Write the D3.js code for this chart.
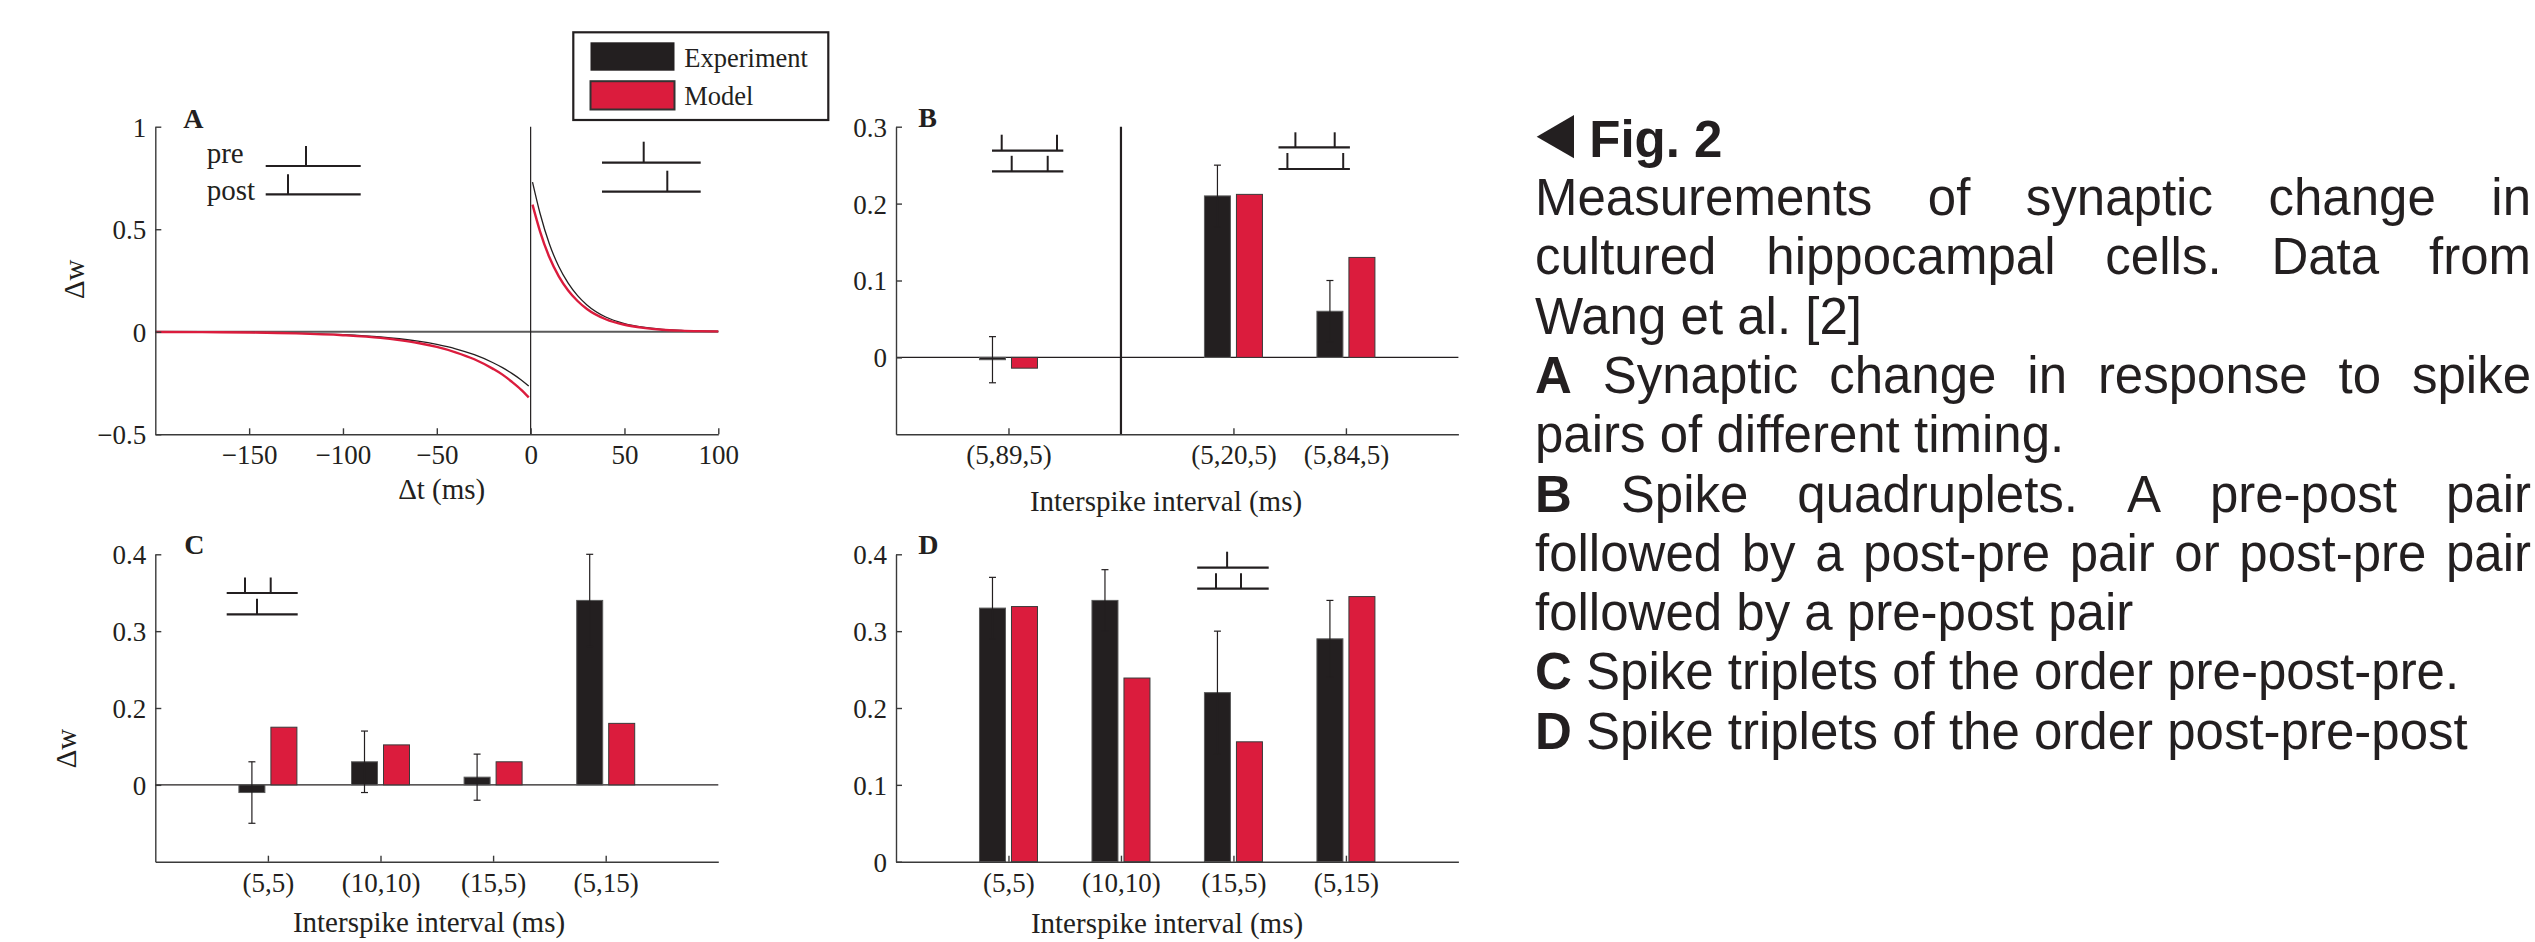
<!DOCTYPE html>
<html><head><meta charset="utf-8">
<script src="https://cdn.jsdelivr.net/npm/d3@7"></script>
<style>body{margin:0;background:#fff}svg{display:block}</style>
</head><body>
<svg id="fig" width="2535" height="942"></svg>
<script>
// ---------------- data ----------------
const seriesNames = ["Experiment", "Model"];

// Panel A: spike-pair window
const aTimeNeg  = [-200,-175,-150,-125,-100,-80,-70,-60,-50,-40,-30,-20,-15,-10,-5,-1];
const aExpNeg   = [-0.0007,-0.0015,-0.003,-0.007,-0.014,-0.025,-0.034,-0.046,-0.062,-0.083,-0.112,-0.151,-0.175,-0.203,-0.235,-0.265];
const aModelNeg = [-0.0008,-0.0018,-0.0036,-0.008,-0.017,-0.03,-0.041,-0.055,-0.074,-0.1,-0.134,-0.181,-0.209,-0.244,-0.283,-0.32];
const aTimePos  = [1,5,10,15,20,25,30,40,50,60,70,80,90,100];
const aExpPos   = [0.73,0.578,0.428,0.318,0.237,0.176,0.131,0.072,0.04,0.022,0.012,0.0065,0.0036,0.002];
const aModelPos = [0.62,0.49,0.363,0.27,0.201,0.15,0.111,0.061,0.034,0.019,0.01,0.0055,0.003,0.0017];
const aXTicks = [-150,-100,-50,0,50,100];
const aXTickLabels = ["\u2212150","\u2212100","\u221250","0","50","100"];
const aYTicks = [-0.5,0,0.5,1];
const aYTickLabels = ["\u22120.5","0","0.5","1"];

// Panel B: quadruplets
const bCategories = ["(5,89,5)", "", "(5,20,5)", "(5,84,5)"];
const bExperiment = [-0.003, 0, 0.21, 0.06];
const bExperimentErr = [0.03, 0, 0.04, 0.04];
const bModel = [-0.014, 0, 0.212, 0.13];
const bYTicks = [0, 0.1, 0.2, 0.3];
const bYTickLabels = ["0", "0.1", "0.2", "0.3"];

// Panel C: triplets pre-post-pre
const cCategories = ["(5,5)", "(10,10)", "(15,5)", "(5,15)"];
const cExperiment = [-0.01, 0.03, 0.01, 0.24];
const cExperimentErr = [0.04, 0.04, 0.03, 0.06];
const cModel = [0.075, 0.052, 0.03, 0.08];
const cYTicks = [0, 0.1, 0.2, 0.3];
const cYTickLabels = ["0", "0.2", "0.3", "0.4"];   // as printed in the figure

// Panel D: triplets post-pre-post
const dCategories = ["(5,5)", "(10,10)", "(15,5)", "(5,15)"];
const dExperiment = [0.33, 0.34, 0.22, 0.29];
const dExperimentErr = [0.04, 0.04, 0.08, 0.05];
const dModel = [0.332, 0.239, 0.156, 0.345];
const dYTicks = [0, 0.1, 0.2, 0.3, 0.4];
const dYTickLabels = ["0", "0.1", "0.2", "0.3", "0.4"];

// Caption
const captionTitle = "Fig. 2";
const captionLines = [
  "Measurements of synaptic change in",
  "cultured hippocampal cells. Data from",
  "Wang et al. [2]",
  "A Synaptic change in response to spike",
  "pairs of different timing.",
  "B Spike quadruplets. A pre-post pair",
  "followed by a post-pre pair or post-pre pair",
  "followed by a pre-post pair",
  "C Spike triplets of the order pre-post-pre.",
  "D Spike triplets of the order post-pre-post"
];
const captionJustified = [true, true, false, true, false, true, true, false, false, false];
const captionBoldLead  = [false, false, false, true, false, true, false, false, true, true];

// ---------------- style / layout ----------------
const INK = "#231f20", RED = "#db1c3d", AXIS = "#3a3a3a";
const SERIF = "'Liberation Serif','Times New Roman',serif";
const SANS = "'Liberation Sans',Arial,sans-serif";
const ROW1 = {top: 126.7, bot: 434.3}, ROW2 = {top: 554.3, bot: 861.7};
const COL1 = {l: 155.3, r: 718.3}, COL2 = {l: 896, r: 1458.4};
const TICK_FS = 27, TITLE_FS = 29, LETTER_FS = 28;
const BAR_GAP = 3, BAR_W = 26, CAP = 3.5;

const svg = d3.select("#fig");

function styleAxis(g) {
  g.select(".domain").attr("stroke", AXIS).attr("stroke-width", 1.4);
  g.selectAll(".tick line").attr("stroke", AXIS).attr("stroke-width", 1.4);
  g.selectAll(".tick text").attr("fill", INK).attr("font-family", SERIF).attr("font-size", TICK_FS);
}
function xAxis(x, yPos, values, labels) {
  const g = svg.append("g").attr("transform", `translate(0,${yPos})`)
    .call(d3.axisBottom(x).tickValues(values).tickFormat((d, i) => labels[i]).tickSizeInner(-6).tickSizeOuter(0));
  styleAxis(g);
  g.selectAll(".tick text").attr("y", 30).attr("dy", null);
  return g;
}
function yAxis(y, xPos, values, labels) {
  const g = svg.append("g").attr("transform", `translate(${xPos},0)`)
    .call(d3.axisLeft(y).tickValues(values).tickFormat((d, i) => labels[i]).tickSizeInner(-6).tickSizeOuter(0));
  styleAxis(g);
  g.selectAll(".tick text").attr("x", -9).attr("dy", "0.35em");
  return g;
}
function text(x, y, str, opts = {}) {
  const t = svg.append("text").attr("x", x).attr("y", y).text(str)
    .attr("font-family", opts.family || SERIF).attr("font-size", opts.size || TITLE_FS)
    .attr("fill", INK).attr("text-anchor", opts.anchor || "start");
  if (opts.bold) t.attr("font-weight", "bold");
  if (opts.rotate) t.attr("transform", `rotate(${opts.rotate},${x},${y})`);
  return t;
}
function seg(x1, y1, x2, y2, w = 2, c = INK) {
  svg.append("line").attr("x1", x1).attr("y1", y1).attr("x2", x2).attr("y2", y2)
    .attr("stroke", c).attr("stroke-width", w);
}
// spike-train pictogram: a baseline with spikes
function train(x1, x2, yb, spikes, h) {
  seg(x1, yb, x2, yb, 2.2);
  spikes.forEach(s => seg(s, yb, s, yb - h, 2));
}

// ---------------- Panel A ----------------
(function () {
  const x = d3.scaleLinear().domain([-200, 100]).range([COL1.l, COL1.r]);
  const y = d3.scaleLinear().domain([-0.5, 1]).range([ROW1.bot, ROW1.top]);
  seg(x(-200), y(0), x(100), y(0), 1.8, "#5a5a5a");
  seg(x(0), y(1), x(0), y(-0.5), 1.2, INK);
  const line = d3.line().x(d => x(d[0])).y(d => y(d[1])).curve(d3.curveMonotoneX);
  const zip = (t, w) => t.map((v, i) => [v, w[i]]);
  const curves = [
    {d: zip(aTimeNeg, aExpNeg), c: INK, w: 1.3},
    {d: zip(aTimePos, aExpPos), c: INK, w: 1.3},
    {d: zip(aTimeNeg, aModelNeg), c: RED, w: 2.4},
    {d: zip(aTimePos, aModelPos), c: RED, w: 2.4}
  ];
  curves.forEach(cv => svg.append("path").attr("d", line(cv.d)).attr("fill", "none")
    .attr("stroke", cv.c).attr("stroke-width", cv.w));
  xAxis(x, ROW1.bot, aXTicks, aXTickLabels);
  yAxis(y, COL1.l, aYTicks, aYTickLabels);
  text(441.7, 499, "\u0394t (ms)", {anchor: "middle"});
  text(84, 279.3, "\u0394w", {anchor: "middle", rotate: -90});
  text(183.3, 127.7, "A", {bold: true, size: LETTER_FS});
  text(206.7, 162.7, "pre", {size: 29});
  text(206.7, 200, "post", {size: 29});
  train(265.7, 360.7, 166, [306], 20);
  train(265.7, 360.7, 194.3, [288], 20);
  train(602, 700.7, 162.7, [643.7], 21);
  train(602, 700.7, 191.7, [667.3], 21);
})();

// ---------------- bar panels ----------------
function barPanel(col, row, domain, cats, exp, err, model, yTicks, yLabels, opts) {
  const x = d3.scaleLinear().domain([0, 5]).range([col.l, col.r]);
  const y = d3.scaleLinear().domain(domain).range([row.bot, row.top]);
  const idx = cats.map((c, i) => i);
  if (domain[0] < 0) seg(col.l, y(0), col.r, y(0), 1.2, INK);
  const bar = (v, xLeft, fill, stroke) => {
    if (v === 0) return;
    svg.append("rect").attr("x", xLeft).attr("width", BAR_W)
      .attr("y", y(Math.max(0, v))).attr("height", Math.abs(y(v) - y(0)))
      .attr("fill", fill).attr("stroke", stroke).attr("stroke-width", 1);
  };
  idx.forEach(i => {
    const cx = x(i + 1);
    bar(exp[i], cx - BAR_GAP - BAR_W, INK, "#5a5a5a");
    bar(model[i], cx + BAR_GAP, RED, "#3a3a3a");
    if (err[i] > 0) {
      const ex = cx - BAR_GAP - BAR_W / 2;
      seg(ex, y(exp[i] + err[i]), ex, y(exp[i] - err[i]), 1.2, INK);
      seg(ex - CAP, y(exp[i] + err[i]), ex + CAP, y(exp[i] + err[i]), 1.2, INK);
      seg(ex - CAP, y(exp[i] - err[i]), ex + CAP, y(exp[i] - err[i]), 1.2, INK);
    }
  });
  if (opts.separator !== undefined) {
    const sx = x(opts.separator + 1);
    seg(sx, row.top, sx, row.bot, 2.2, INK);
  }
  const tickIdx = idx.filter(i => cats[i] !== "");
  xAxis(x, row.bot, tickIdx.map(i => i + 1), tickIdx.map(i => cats[i]));
  yAxis(y, col.l, yTicks, yLabels);
  return {x, y};
}

// Panel B
barPanel(COL2, ROW1, [-0.1, 0.3], bCategories, bExperiment, bExperimentErr, bModel, bYTicks, bYTickLabels, {separator: 1});
text(1166, 510.5, "Interspike interval (ms)", {anchor: "middle"});
text(918.3, 126.7, "B", {bold: true, size: LETTER_FS});
train(992, 1063.3, 150.7, [1001.7, 1057], 16);
train(992, 1063.3, 171.3, [1011.7, 1047.7], 15.5);
train(1278.5, 1349.9, 147.3, [1295.4, 1334.7], 15);
train(1278.5, 1349.9, 169, [1287.4, 1343.2], 16);

// Panel C
barPanel(COL1, ROW2, [-0.1, 0.3], cCategories, cExperiment, cExperimentErr, cModel, cYTicks, cYTickLabels, {});
text(429, 932, "Interspike interval (ms)", {anchor: "middle"});
text(76, 748.5, "\u0394w", {anchor: "middle", rotate: -90});
text(184.3, 554, "C", {bold: true, size: LETTER_FS});
train(226.7, 297.7, 593, [245, 270.7], 15.5);
train(226.7, 297.7, 614.3, [257], 15.5);

// Panel D
barPanel(COL2, ROW2, [0, 0.4], dCategories, dExperiment, dExperimentErr, dModel, dYTicks, dYTickLabels, {});
text(1167, 933, "Interspike interval (ms)", {anchor: "middle"});
text(918.2, 554.3, "D", {bold: true, size: LETTER_FS});
train(1197.2, 1268.7, 567.7, [1227.1], 16);
train(1197.2, 1268.7, 588.7, [1216, 1241], 15.5);

// ---------------- Legend ----------------
(function () {
  const g = svg.append("g");
  g.append("rect").attr("x", 573.3).attr("y", 32.3).attr("width", 255).attr("height", 87.7)
    .attr("fill", "#fff").attr("stroke", INK).attr("stroke-width", 2.2);
  const sw = [{fill: INK, stroke: "none", y: 42.3, h: 28.4}, {fill: RED, stroke: "#333", y: 81.2, h: 28.3}];
  seriesNames.forEach((n, i) => {
    g.append("rect").attr("x", 590.5).attr("y", sw[i].y).attr("width", 84).attr("height", sw[i].h)
      .attr("fill", sw[i].fill).attr("stroke", sw[i].stroke).attr("stroke-width", 2);
    g.append("text").attr("x", 684.3).attr("y", [66.7, 105.3][i]).text(n)
      .attr("font-family", SERIF).attr("font-size", 26.5).attr("fill", INK);
  });
})();

// ---------------- Caption ----------------
(function () {
  const CAP_LEFT = 1535, CAP_RIGHT = 2531, CAP_Y0 = 215, CAP_STEP = 59.3, FS = 51;
  const g = svg.append("g").attr("font-family", SANS).attr("font-size", FS).attr("fill", INK);
  g.append("path").attr("d", "M1536.7,136.7L1574,115L1574,158.3Z").attr("fill", INK);
  g.append("text").attr("x", 1589.3).attr("y", 156.7).attr("font-weight", "bold").text(captionTitle);
  const measure = (w, bold) => {
    const t = g.append("text").attr("font-weight", bold ? "bold" : "normal").text(w);
    const len = t.node().getComputedTextLength(); t.remove(); return len;
  };
  const spaceW = measure("a a") - measure("aa");
  captionLines.forEach((line, i) => {
    const words = line.split(" ");
    const widths = words.map((w, j) => measure(w, captionBoldLead[i] && j === 0));
    const gap = captionJustified[i]
      ? (CAP_RIGHT - CAP_LEFT - d3.sum(widths)) / (words.length - 1) : spaceW;
    let xx = CAP_LEFT;
    words.forEach((w, j) => {
      g.append("text").attr("x", xx).attr("y", CAP_Y0 + i * CAP_STEP)
        .attr("font-weight", captionBoldLead[i] && j === 0 ? "bold" : "normal").text(w);
      xx += widths[j] + gap;
    });
  });
})();
</script>
</body></html>
